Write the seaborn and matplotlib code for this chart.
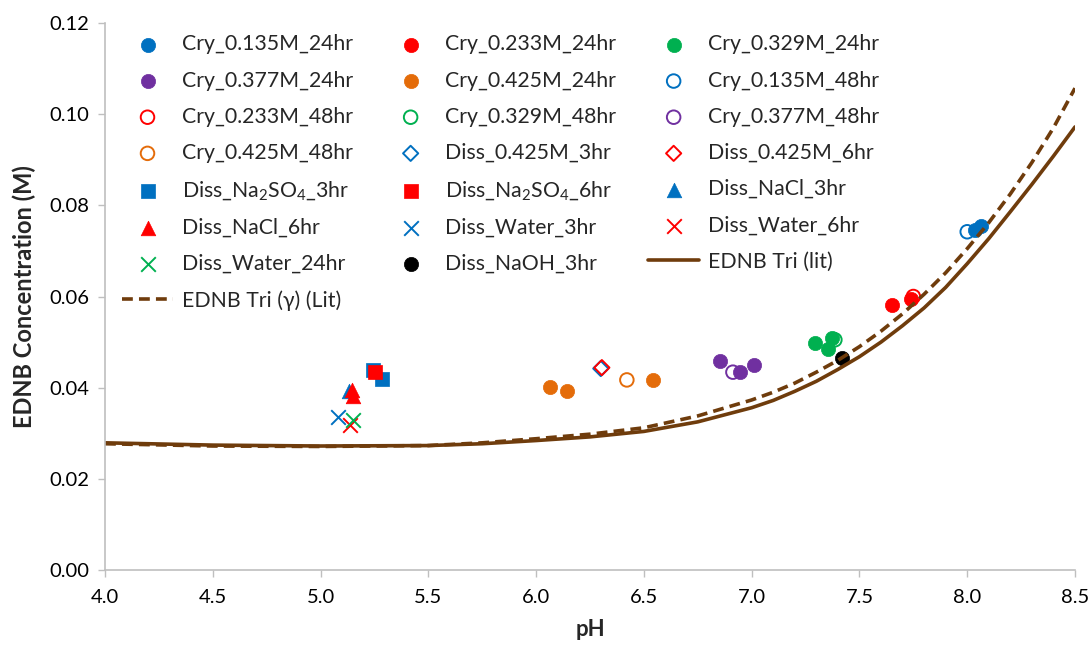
import matplotlib
matplotlib.use("Agg")
import matplotlib.pyplot as plt
import seaborn as sns
import pandas as pd
import numpy as np

# ---------------- data ----------------
cry135_24_ph = [8.035, 8.065]
cry135_24_c = [0.0746, 0.0755]
cry233_24_ph = [7.65, 7.74]
cry233_24_c = [0.0581, 0.0595]
cry329_24_ph = [7.293, 7.372, 7.353]
cry329_24_c = [0.0498, 0.0509, 0.0485]
cry377_24_ph = [6.852, 6.945, 7.01]
cry377_24_c = [0.0459, 0.0434, 0.0450]
cry425_24_ph = [6.064, 6.143, 6.54]
cry425_24_c = [0.0401, 0.0393, 0.0417]
cry135_48_ph = [8.00]
cry135_48_c = [0.0742]
cry233_48_ph = [7.75]
cry233_48_c = [0.0600]
cry329_48_ph = [7.386]
cry329_48_c = [0.0505]
cry377_48_ph = [6.913]
cry377_48_c = [0.0434]
cry425_48_ph = [6.421]
cry425_48_c = [0.0417]
diss425_3_ph = [6.300]
diss425_3_c = [0.0442]
diss425_6_ph = [6.305]
diss425_6_c = [0.0444]
na2so4_3_ph = [5.243, 5.285]
na2so4_3_c = [0.0439, 0.0420]
na2so4_6_ph = [5.252]
na2so4_6_c = [0.0434]
nacl_3_ph = [5.132]
nacl_3_c = [0.0392]
nacl_6_ph = [5.145, 5.150]
nacl_6_c = [0.0395, 0.0382]
water_3_ph = [5.081]
water_3_c = [0.0336]
water_6_ph = [5.136]
water_6_c = [0.0318]
water_24_ph = [5.150]
water_24_c = [0.0329]
naoh_3_ph = [7.418]
naoh_3_c = [0.0465]

lit_ph = [4.0, 4.5, 5.0, 5.5, 5.75, 6.0, 6.25, 6.5, 6.75, 7.0, 7.1, 7.2, 7.3, 7.4,
          7.5, 7.6, 7.7, 7.8, 7.9, 8.0, 8.1, 8.2, 8.3, 8.4, 8.5]
lit_c = [0.0279, 0.0274, 0.0272, 0.0273, 0.0277, 0.0284, 0.0292, 0.0304, 0.0325, 0.0356,
         0.0372, 0.0392, 0.0414, 0.0440, 0.0468, 0.0500, 0.0536, 0.0575, 0.0620, 0.0672,
         0.0727, 0.0786, 0.0846, 0.0908, 0.0972]
litg_ph = [4.0, 4.5, 5.0, 5.5, 5.75, 6.0, 6.25, 6.5, 6.75, 7.0, 7.1, 7.2, 7.3, 7.4,
           7.5, 7.6, 7.7, 7.8, 7.9, 8.0, 8.1, 8.2, 8.3, 8.4, 8.5]
litg_c = [0.0277, 0.0272, 0.0271, 0.0273, 0.0279, 0.0288, 0.0298, 0.0312, 0.0338, 0.0373,
          0.0390, 0.0410, 0.0434, 0.0460, 0.0490, 0.0524, 0.0562, 0.0605, 0.0652, 0.0705,
          0.0762, 0.0825, 0.0894, 0.0970, 0.1057]

BLUE = "#0070C0"
RED = "#FF0000"
GREEN = "#00B050"
PURPLE = "#7030A0"
ORANGE = "#E46C0A"
BROWN = "#6F3C0C"

# label, x, y, marker, color, filled, size
series = [
    ("Cry_0.135M_24hr", cry135_24_ph, cry135_24_c, "o", BLUE, True, 105),
    ("Cry_0.233M_24hr", cry233_24_ph, cry233_24_c, "o", RED, True, 105),
    ("Cry_0.329M_24hr", cry329_24_ph, cry329_24_c, "o", GREEN, True, 105),
    ("Cry_0.377M_24hr", cry377_24_ph, cry377_24_c, "o", PURPLE, True, 105),
    ("Cry_0.425M_24hr", cry425_24_ph, cry425_24_c, "o", ORANGE, True, 105),
    ("Cry_0.135M_48hr", cry135_48_ph, cry135_48_c, "o", BLUE, False, 95),
    ("Cry_0.233M_48hr", cry233_48_ph, cry233_48_c, "o", RED, False, 95),
    ("Cry_0.329M_48hr", cry329_48_ph, cry329_48_c, "o", GREEN, False, 95),
    ("Cry_0.377M_48hr", cry377_48_ph, cry377_48_c, "o", PURPLE, False, 95),
    ("Cry_0.425M_48hr", cry425_48_ph, cry425_48_c, "o", ORANGE, False, 95),
    ("Diss_0.425M_3hr", diss425_3_ph, diss425_3_c, "D", BLUE, False, 60),
    ("Diss_0.425M_6hr", diss425_6_ph, diss425_6_c, "D", RED, False, 60),
    ("Diss_Na$_2$SO$_4$_3hr", na2so4_3_ph, na2so4_3_c, "s", BLUE, True, 100),
    ("Diss_Na$_2$SO$_4$_6hr", na2so4_6_ph, na2so4_6_c, "s", RED, True, 100),
    ("Diss_NaCl_3hr", nacl_3_ph, nacl_3_c, "^", BLUE, True, 110),
    ("Diss_NaCl_6hr", nacl_6_ph, nacl_6_c, "^", RED, True, 110),
    ("Diss_Water_3hr", water_3_ph, water_3_c, "x", BLUE, False, 110),
    ("Diss_Water_6hr", water_6_ph, water_6_c, "x", RED, False, 110),
    ("Diss_Water_24hr", water_24_ph, water_24_c, "x", GREEN, False, 110),
    ("Diss_NaOH_3hr", naoh_3_ph, naoh_3_c, "o", "black", True, 105),
]

# ---------------- figure ----------------
sns.set_theme(style="white")
plt.rcParams["font.family"] = ["Lato", "DejaVu Sans"]
plt.rcParams["mathtext.fontset"] = "custom"
plt.rcParams["mathtext.rm"] = "Lato"
plt.rcParams["mathtext.it"] = "Lato:italic"

fig = plt.figure(figsize=(10.91, 6.5), dpi=100)
ax = fig.add_axes([105 / 1091, 1 - 570 / 650, (1075 - 105) / 1091, (570 - 23) / 650])

for label, xs, ys, m, col, filled, s in series:
    df = pd.DataFrame({"pH": xs, "c": ys})
    kw = dict(data=df, x="pH", y="c", ax=ax, marker=m, s=s, label=label)
    if m == "x":
        sns.scatterplot(color=col, linewidth=1.4, **kw)
    elif filled:
        sns.scatterplot(color=col, edgecolor=col, linewidth=0.5, **kw)
    else:
        sns.scatterplot(color=col, facecolor="none", edgecolor=col, linewidth=1.4, **kw)

df_lit = pd.DataFrame({"pH": lit_ph, "c": lit_c})
df_litg = pd.DataFrame({"pH": litg_ph, "c": litg_c})
sns.lineplot(data=df_lit, x="pH", y="c", ax=ax, color=BROWN, linewidth=2.6,
             label="EDNB Tri (lit)", estimator=None, sort=True)
sns.lineplot(data=df_litg, x="pH", y="c", ax=ax, color=BROWN, linewidth=2.6,
             linestyle=(0, (3, 1.7)), label="EDNB Tri (\u03b3) (Lit)", estimator=None, sort=True)

ax.set_xlim(4.0, 8.5)
ax.set_ylim(0.0, 0.12)
ax.set_xticks(np.arange(4.0, 8.51, 0.5))
ax.set_yticks(np.arange(0.0, 0.121, 0.02))
ax.set_xticklabels([f"{v:.1f}" for v in np.arange(4.0, 8.51, 0.5)])
ax.set_yticklabels([f"{v:.2f}" for v in np.arange(0.0, 0.121, 0.02)])
ax.tick_params(axis="both", labelsize=14.5, labelcolor="black", color="#BFBFBF",
               length=5, width=1, direction="out", bottom=True, left=True)
ax.tick_params(axis="x", pad=9)
ax.tick_params(axis="y", pad=6)

for side in ["top", "right"]:
    ax.spines[side].set_visible(False)
for side in ["left", "bottom"]:
    ax.spines[side].set_color("#BFBFBF")
    ax.spines[side].set_linewidth(1.2)

ax.set_xlabel("pH", fontsize=16, fontweight="bold", labelpad=9)
ax.set_ylabel("EDNB Concentration (M)", fontsize=17, fontweight="bold", labelpad=10)

handles, labels = ax.get_legend_handles_labels()
n = len(handles)
order = list(range(0, n, 3)) + list(range(1, n, 3)) + list(range(2, n, 3))
ax.legend([handles[i] for i in order], [labels[i] for i in order], ncol=3,
          loc="upper left", bbox_to_anchor=(17 / 970, 0.979), frameon=False,
          fontsize=15.3, handlelength=2.4, handletextpad=0.43, columnspacing=1.5,
          labelspacing=0.76, borderpad=0, borderaxespad=0)

fig.savefig("out.png", dpi=100)
